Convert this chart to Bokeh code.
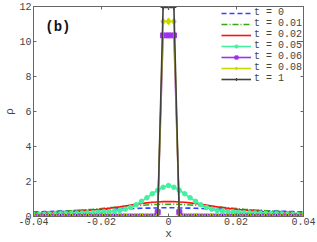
import numpy as np
from bokeh.plotting import figure
from bokeh.models import Legend, LegendItem, LinearAxis, FixedTicker, Label, Range1d
from bokeh.embed import file_html
from bokeh.resources import INLINE

# x grid
x = list(np.round(np.linspace(-0.04, 0.04, 51), 5))

labels = ["t = 0", "t = 0.01", "t = 0.02", "t = 0.05", "t = 0.06", "t = 0.08", "t = 1"]

rho_t0 = [0.26, 0.27, 0.28, 0.29, 0.30, 0.31, 0.32, 0.33, 0.34, 0.35, 0.37, 0.38, 0.39,
          0.40, 0.41, 0.42, 0.43, 0.44, 0.45, 0.46, 0.47, 0.48, 0.48, 0.49, 0.50, 0.50,
          0.50, 0.49, 0.48, 0.48, 0.47, 0.46, 0.45, 0.44, 0.43, 0.42, 0.41, 0.40, 0.39,
          0.38, 0.37, 0.35, 0.34, 0.33, 0.32, 0.31, 0.30, 0.29, 0.28, 0.27, 0.26]
rho_t001 = [0.22, 0.23, 0.25, 0.26, 0.28, 0.30, 0.31, 0.33, 0.35, 0.37, 0.39, 0.41, 0.44,
            0.47, 0.50, 0.52, 0.55, 0.58, 0.60, 0.62, 0.64, 0.66, 0.68, 0.69, 0.70, 0.70,
            0.70, 0.69, 0.68, 0.66, 0.64, 0.62, 0.60, 0.58, 0.55, 0.52, 0.50, 0.47, 0.44,
            0.41, 0.39, 0.37, 0.35, 0.33, 0.31, 0.30, 0.28, 0.26, 0.25, 0.23, 0.22]
rho_t002 = [0.15, 0.16, 0.18, 0.19, 0.21, 0.23, 0.25, 0.27, 0.29, 0.31, 0.34, 0.37, 0.40,
            0.43, 0.47, 0.51, 0.55, 0.60, 0.65, 0.70, 0.74, 0.78, 0.81, 0.83, 0.85, 0.85,
            0.85, 0.83, 0.81, 0.78, 0.74, 0.70, 0.65, 0.60, 0.55, 0.51, 0.47, 0.43, 0.40,
            0.37, 0.34, 0.31, 0.29, 0.27, 0.25, 0.23, 0.21, 0.19, 0.18, 0.16, 0.15]
rho_t005 = [0.11, 0.12, 0.13, 0.14, 0.15, 0.16, 0.17, 0.18, 0.19, 0.20, 0.21, 0.22, 0.24,
            0.26, 0.28, 0.31, 0.35, 0.42, 0.52, 0.67, 0.87, 1.07, 1.30, 1.50, 1.67, 1.77,
            1.67, 1.50, 1.30, 1.07, 0.87, 0.67, 0.52, 0.42, 0.35, 0.31, 0.28, 0.26, 0.24,
            0.22, 0.21, 0.20, 0.19, 0.18, 0.17, 0.16, 0.15, 0.14, 0.13, 0.12, 0.11]
rho_t006 = [0.0] * 23 + [0.25, 10.35, 10.35, 10.35, 0.25] + [0.0] * 23
rho_t008 = [0.0] * 24 + [11.15, 11.15, 11.15] + [0.0] * 24
rho_t1 = [0.0] * 24 + [11.95, 11.95, 11.95] + [0.0] * 24

x_ticks = [-0.04, -0.02, 0, 0.02, 0.04]
x_tick_labels = ["-0.04", "-0.02", "0", "0.02", "0.04"]
y_ticks = [0, 2, 4, 6, 8, 10, 12]

FONT = "Liberation Mono"
AX = "#666666"
TXT = "#444444"

p = figure(width=317, height=242, output_backend="svg", toolbar_location=None,
           x_range=Range1d(-0.04, 0.04), y_range=Range1d(0, 12),
           min_border_left=33, min_border_right=14, min_border_top=6, min_border_bottom=20)
p.xgrid.visible = False
p.ygrid.visible = False
p.outline_line_color = AX
p.background_fill_color = "white"

for ax, ticks in ((p.xaxis[0], x_ticks), (p.yaxis[0], y_ticks)):
    ax.ticker = FixedTicker(ticks=ticks)
    ax.major_tick_in = 3
    ax.major_tick_out = 0
    ax.minor_tick_line_color = None
    ax.axis_line_color = AX
    ax.major_tick_line_color = AX
    ax.major_label_text_font = FONT
    ax.major_label_text_font_size = "10px"
    ax.major_label_text_color = TXT
    ax.major_label_standoff = 2
    ax.axis_label_text_font = FONT
    ax.axis_label_text_font_size = "11px"
    ax.axis_label_text_font_style = "normal"
    ax.axis_label_text_color = TXT
    ax.axis_label_standoff = 0
p.xaxis.major_label_overrides = {t: l for t, l in zip(x_ticks, x_tick_labels)}
p.xaxis.major_label_standoff = 1
p.xaxis.axis_label = "x"
p.yaxis.axis_label = "ρ"

for ticks, side in ((x_ticks, "above"), (y_ticks, "right")):
    a = LinearAxis(ticker=FixedTicker(ticks=ticks), major_tick_in=3, major_tick_out=0,
                   minor_tick_line_color=None, axis_line_color=AX, major_tick_line_color=AX,
                   major_label_text_color=None, major_label_text_font_size="1px",
                   major_label_standoff=0)
    p.add_layout(a, side)

items = []
r = p.line(x, rho_t0, line_color="#3344ff", line_width=1.6, line_dash="5 3")
items.append(LegendItem(label=labels[0], renderers=[r]))
r = p.line(x, rho_t001, line_color="#33aa11", line_width=1.6, line_dash="6 2 1 2")
items.append(LegendItem(label=labels[1], renderers=[r]))
r = p.line(x, rho_t002, line_color="#ff1111", line_width=1.6)
items.append(LegendItem(label=labels[2], renderers=[r]))
r1 = p.line(x, rho_t005, line_color="#44f0a0", line_width=1.6)
r2 = p.scatter(x, rho_t005, marker="circle", size=4.5, fill_color="#44f0a0", line_color="#44f0a0")
items.append(LegendItem(label=labels[3], renderers=[r1, r2]))
r1 = p.line(x, rho_t006, line_color="#a030f0", line_width=1.6)
r2 = p.scatter(x, rho_t006, marker="square", size=5, fill_color="#a030f0", line_color="#a030f0")
items.append(LegendItem(label=labels[4], renderers=[r1, r2]))
r1 = p.line(x, rho_t008, line_color="#c8d800", line_width=1.6)
r2 = p.scatter(x, rho_t008, marker="diamond", size=7, fill_color="#c8d800", line_color="#c8d800")
items.append(LegendItem(label=labels[5], renderers=[r1, r2]))
r1 = p.line(x, rho_t1, line_color="#404040", line_width=1.6)
r2 = p.scatter(x, rho_t1, marker="cross", size=5, line_color="#404040", line_width=1.2)
items.append(LegendItem(label=labels[6], renderers=[r1, r2]))

legend = Legend(items=items, location="top_right", border_line_alpha=0,
                background_fill_alpha=0, label_text_font=FONT, label_text_font_size="10px",
                label_text_color=TXT, glyph_width=30, glyph_height=8, label_height=8,
                spacing=-4, padding=0, margin=1, label_standoff=3)
p.add_layout(legend)

p.add_layout(Label(x=-0.0365, y=10.85, text="(b)", text_font=FONT, text_font_style="bold",
                   text_font_size="14px", text_color="#111111", text_baseline="middle"))

open("out.html", "w").write(file_html(p, INLINE))
